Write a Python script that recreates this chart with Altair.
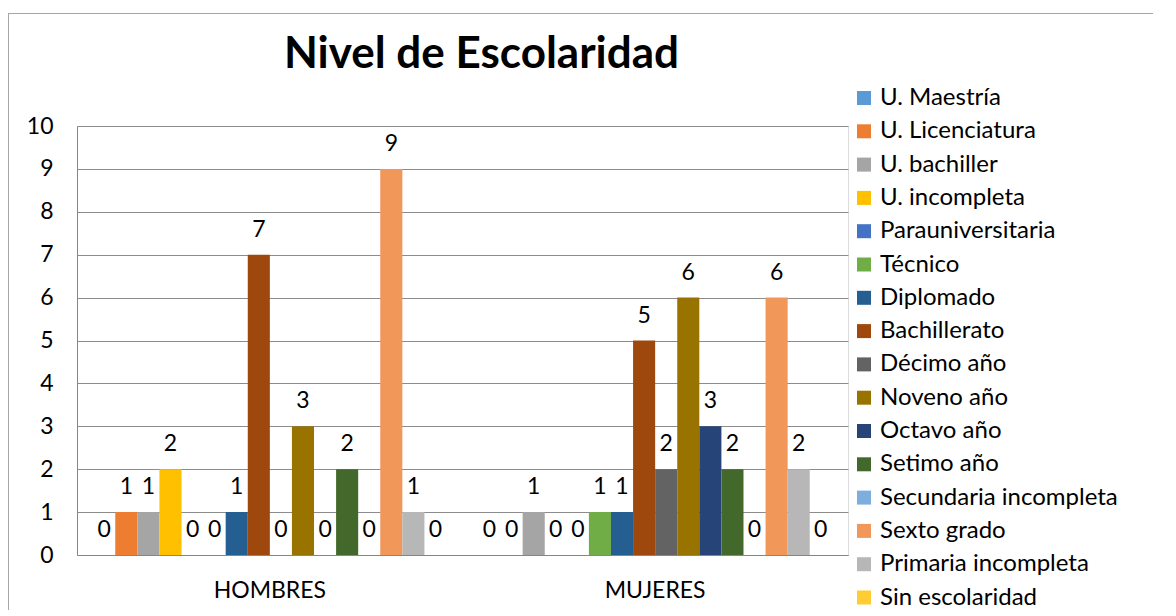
import altair as alt
import pandas as pd

categories = ["HOMBRES", "MUJERES"]
series = ["U. Maestría", "U. Licenciatura", "U. bachiller", "U. incompleta",
          "Parauniversitaria", "Técnico", "Diplomado", "Bachillerato",
          "Décimo año", "Noveno año", "Octavo año", "Setimo año",
          "Secundaria incompleta", "Sexto grado", "Primaria incompleta",
          "Sin escolaridad"]
hombres = [0, 1, 1, 2, 0, 0, 1, 7, 0, 3, 0, 2, 0, 9, 1, 0]
mujeres = [0, 0, 1, 0, 0, 1, 1, 5, 2, 6, 3, 2, 0, 6, 2, 0]
colors = ["#5B9BD5", "#ED7D31", "#A5A5A5", "#FFC000", "#4472C4", "#70AD47",
          "#255E91", "#9E480E", "#636363", "#997300", "#264478", "#43682B",
          "#7CAFDD", "#F1975A", "#B7B7B7", "#FFCD33"]
y_ticks = list(range(0, 11))

rows = []
for cat, vals in zip(categories, [hombres, mujeres]):
    for s, v in zip(series, vals):
        rows.append({"categoria": cat, "serie": s, "valor": v})
df = pd.DataFrame(rows)

FONT = "Lato"

base = alt.Chart(df).encode(
    x=alt.X("categoria:N", sort=categories,
            scale=alt.Scale(paddingInner=0.083, paddingOuter=0.042),
            axis=alt.Axis(title=None, labelAngle=0, labelFontSize=23, labelFont=FONT,
                          labelColor="#000000", labelPadding=24, ticks=False,
                          domainColor="#868686", grid=False)),
    xOffset=alt.XOffset("serie:N", sort=series,
                        scale=alt.Scale(paddingInner=0, paddingOuter=0)),
)

bars = base.mark_bar().encode(
    y=alt.Y("valor:Q", scale=alt.Scale(domain=[0, 10], nice=False),
            axis=alt.Axis(title=None, values=y_ticks, labelFontSize=23, labelFont=FONT,
                          labelColor="#000000", labelPadding=24, ticks=False,
                          domainColor="#868686", gridColor="#8C8C8C", grid=True)),
    color=alt.Color("serie:N", sort=series,
                    scale=alt.Scale(domain=series, range=colors),
                    legend=alt.Legend(orient="none", legendX=775, legendY=-40, title=None,
                                      symbolType="square", symbolSize=196,
                                      symbolStrokeWidth=0, labelFontSize=24,
                                      labelFont=FONT, labelColor="#000000",
                                      rowPadding=9.3, labelOffset=4, padding=0,
                                      labelLimit=400)),
)

labels = base.mark_text(dy=-18, baseline="alphabetic", fontSize=23, font=FONT,
                        color="#000000").encode(
    y=alt.Y("valor:Q"),
    text=alt.Text("valor:Q"),
)

border_df = pd.DataFrame({"k": [0]})
border_left = alt.Chart(border_df).mark_rule(color="#A6A6A6", strokeWidth=1).encode(
    x=alt.value(-68.5), y=alt.value(-112.5), y2=alt.value(600))
border_top = alt.Chart(border_df).mark_rule(color="#A6A6A6", strokeWidth=1).encode(
    x=alt.value(-69), x2=alt.value(1200), y=alt.value(-112.5))

chart = alt.layer(border_left, border_top, bars, labels).properties(
    width=771, height=429,
    title=alt.TitleParams("Nivel de Escolaridad", fontSize=44, font=FONT,
                          fontWeight="bold", anchor="middle", dx=19, dy=41, offset=-58,
                          baseline="alphabetic", color="#000000"),
    autosize=alt.AutoSizeParams(type="none"),
    padding={"left": 69, "top": 118, "right": 305, "bottom": 55},
).configure_view(stroke=None).configure(background="white")

chart.save("out.html", embed_options={"renderer": "svg", "actions": False})
